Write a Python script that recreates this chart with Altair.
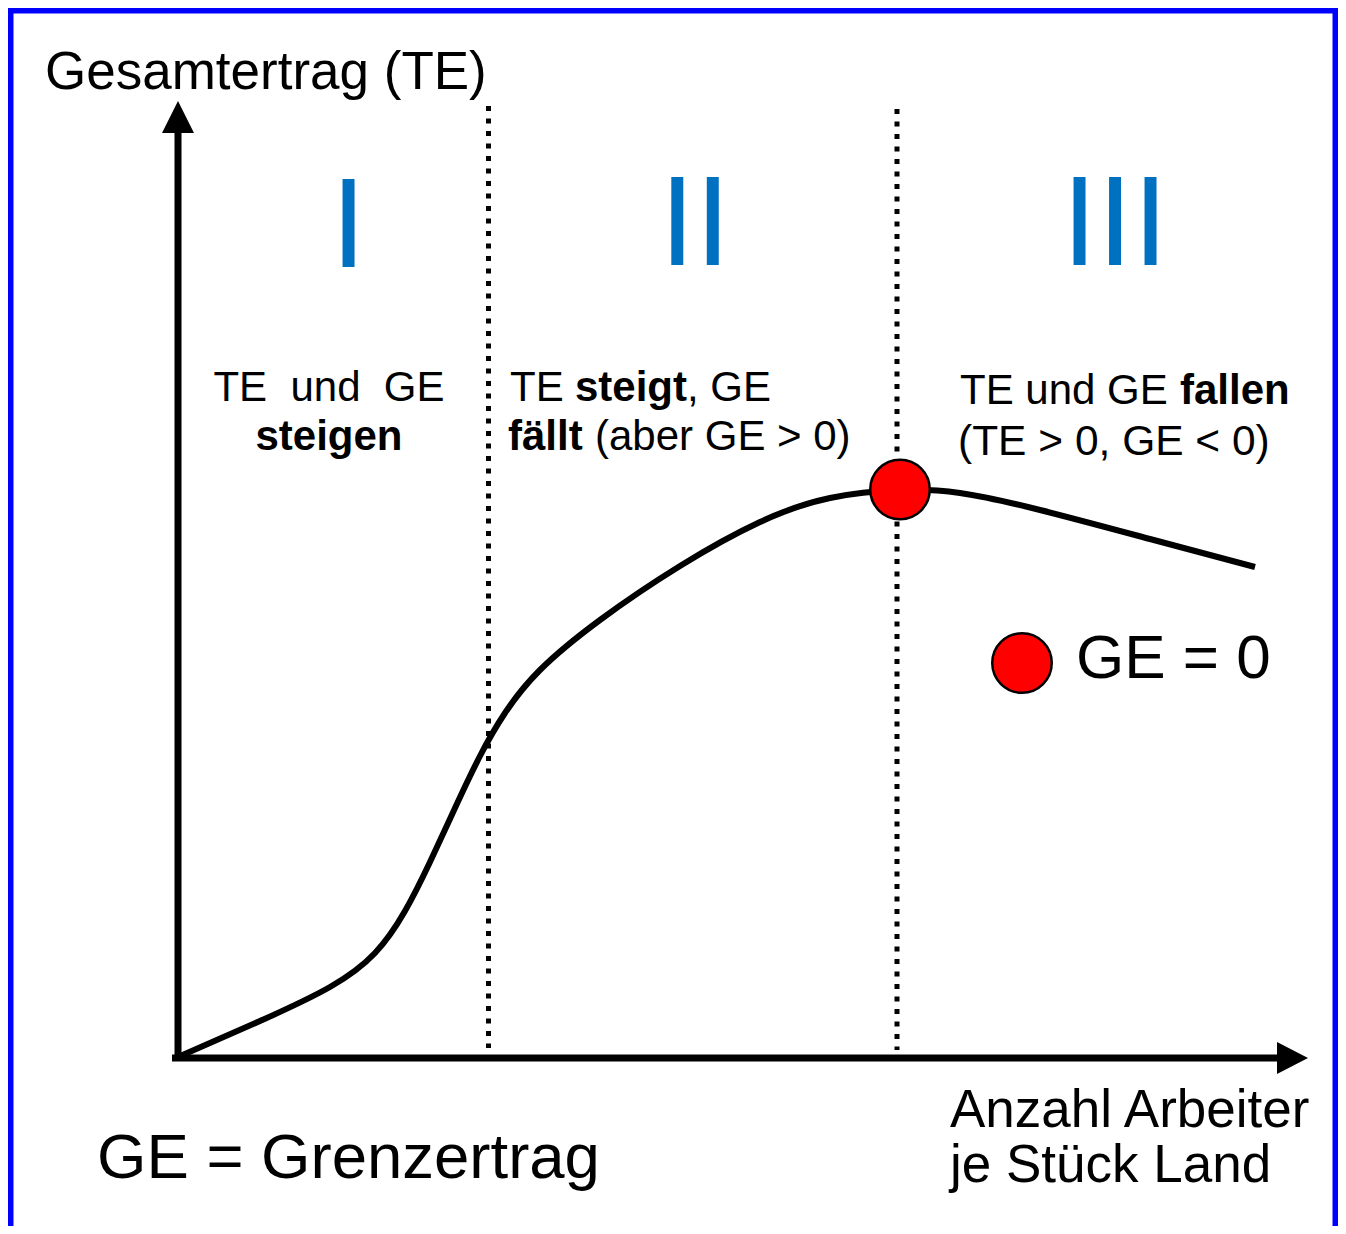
import altair as alt
import pandas as pd

# ---- data (reference pixel coordinates of the schematic) ----
curve_x = [178, 260, 330, 375, 405, 430, 455, 480, 505, 540, 600, 680, 760, 830, 900, 960, 1040, 1150, 1255]
curve_y = [1057, 1021, 987, 953, 911, 862, 808, 756, 713, 670, 620, 566, 522, 498, 490, 493, 510, 539, 567]

dot_x = [900, 1022]
dot_y = [489.5, 663]

divider_x = [488.5, 897]
divider_top = [106, 109]
divider_bottom = [1048, 1050]

numeral_text = ["I", "II", "III"]
numeral_x = [348.5, 695, 1115]
numeral_y = [267, 265, 265]

normal_text = ["Gesamtertrag (TE)", "GE = Grenzertrag", "Anzahl Arbeiter", "je Stück Land", "GE = 0",
               "TE", ", GE", "(aber GE > 0)", "TE und GE", "(TE > 0, GE < 0)"]
normal_x = [45, 97, 950, 950, 1076, 510, 687, 595, 960, 958]
normal_y = [89, 1178, 1127, 1182, 678, 401, 401, 450, 404, 455]
normal_size = [53, 63.5, 53, 53, 62, 42, 42, 42, 42, 42.5]

center_text = ["TE\u00a0 und\u00a0 GE"]
center_x = [329]
center_y = [401]

bold_text = ["steigt", "fällt", "fallen"]
bold_x = [575, 508, 1180]
bold_y = [401, 450, 404]

bold_center_text = ["steigen"]
bold_center_x = [329]
bold_center_y = [450]

# ---- scales: identity mapping of reference pixels (page margin 8px) ----
W, H = 1330, 1218
xs = alt.Scale(domain=[8, 8 + W], nice=False, zero=False)
ys = alt.Scale(domain=[8 + H, 8], nice=False, zero=False)
FONT = "Liberation Sans"


def X(f="x"):
    return alt.X(f"{f}:Q", scale=xs, axis=None)


def Y(f="y"):
    return alt.Y(f"{f}:Q", scale=ys, axis=None)


border = alt.Chart(pd.DataFrame({"x": [10.5], "x2": [1335.5], "y": [10.5], "y2": [1250]})).mark_rect(
    fill=None, stroke="#0000FF", strokeWidth=6, clip=True
).encode(x=X(), x2="x2:Q", y=Y(), y2="y2:Q")

dividers = alt.Chart(pd.DataFrame({"x": divider_x, "y": divider_top, "y2": divider_bottom})).mark_rule(
    color="black", strokeWidth=5, strokeDash=[5, 7.5]
).encode(x=X(), y=Y(), y2="y2:Q")

axes_lines = alt.Chart(pd.DataFrame({
    "x": [178, 172], "x2": [178, 1282], "y": [1061, 1058], "y2": [130, 1058]
})).mark_rule(color="black", strokeWidth=7).encode(x=X(), x2="x2:Q", y=Y(), y2="y2:Q")

arrow_up = alt.Chart(pd.DataFrame({"y": [133, 101], "x": [162, 178], "x2": [194, 178]})).mark_area(
    orient="horizontal", color="black"
).encode(y=Y(), x=X(), x2="x2:Q")

arrow_right = alt.Chart(pd.DataFrame({"x": [1277, 1308], "y": [1042, 1058], "y2": [1074, 1058]})).mark_area(
    orient="vertical", color="black"
).encode(x=X(), y=Y(), y2="y2:Q")

curve = alt.Chart(pd.DataFrame({"x": curve_x, "y": curve_y})).mark_line(
    color="black", strokeWidth=6, interpolate="natural"
).encode(x=X(), y=Y())

dots = alt.Chart(pd.DataFrame({"x": dot_x, "y": dot_y})).mark_point(
    shape="circle", filled=True, fill="#FF0000", stroke="black", strokeWidth=2.5, opacity=1, size=3540
).encode(x=X(), y=Y())

numerals = alt.Chart(pd.DataFrame({"x": numeral_x, "y": numeral_y, "t": numeral_text})).mark_text(
    font=FONT, fontSize=128, color="#0070C0", align="center", baseline="alphabetic"
).encode(x=X(), y=Y(), text="t:N")

normal = alt.Chart(pd.DataFrame({"x": normal_x, "y": normal_y, "t": normal_text, "s": normal_size})).mark_text(
    font=FONT, color="black", align="left", baseline="alphabetic"
).encode(x=X(), y=Y(), text="t:N", size=alt.Size("s:Q", scale=None, legend=None))

centered = alt.Chart(pd.DataFrame({"x": center_x, "y": center_y, "t": center_text})).mark_text(
    font=FONT, fontSize=42, color="black", align="center", baseline="alphabetic"
).encode(x=X(), y=Y(), text="t:N")

bold = alt.Chart(pd.DataFrame({"x": bold_x, "y": bold_y, "t": bold_text})).mark_text(
    font=FONT, fontSize=42, fontWeight="bold", color="black", align="left", baseline="alphabetic"
).encode(x=X(), y=Y(), text="t:N")

bold_c = alt.Chart(pd.DataFrame({"x": bold_center_x, "y": bold_center_y, "t": bold_center_text})).mark_text(
    font=FONT, fontSize=42, fontWeight="bold", color="black", align="center", baseline="alphabetic"
).encode(x=X(), y=Y(), text="t:N")

chart = alt.layer(
    border, dividers, axes_lines, arrow_up, arrow_right, curve, dots,
    numerals, normal, centered, bold, bold_c
).properties(
    width=W, height=H, autosize="none", padding=0, background="white"
).configure_view(stroke=None)

chart.save("out.html", embed_options={"renderer": "svg", "actions": False})
